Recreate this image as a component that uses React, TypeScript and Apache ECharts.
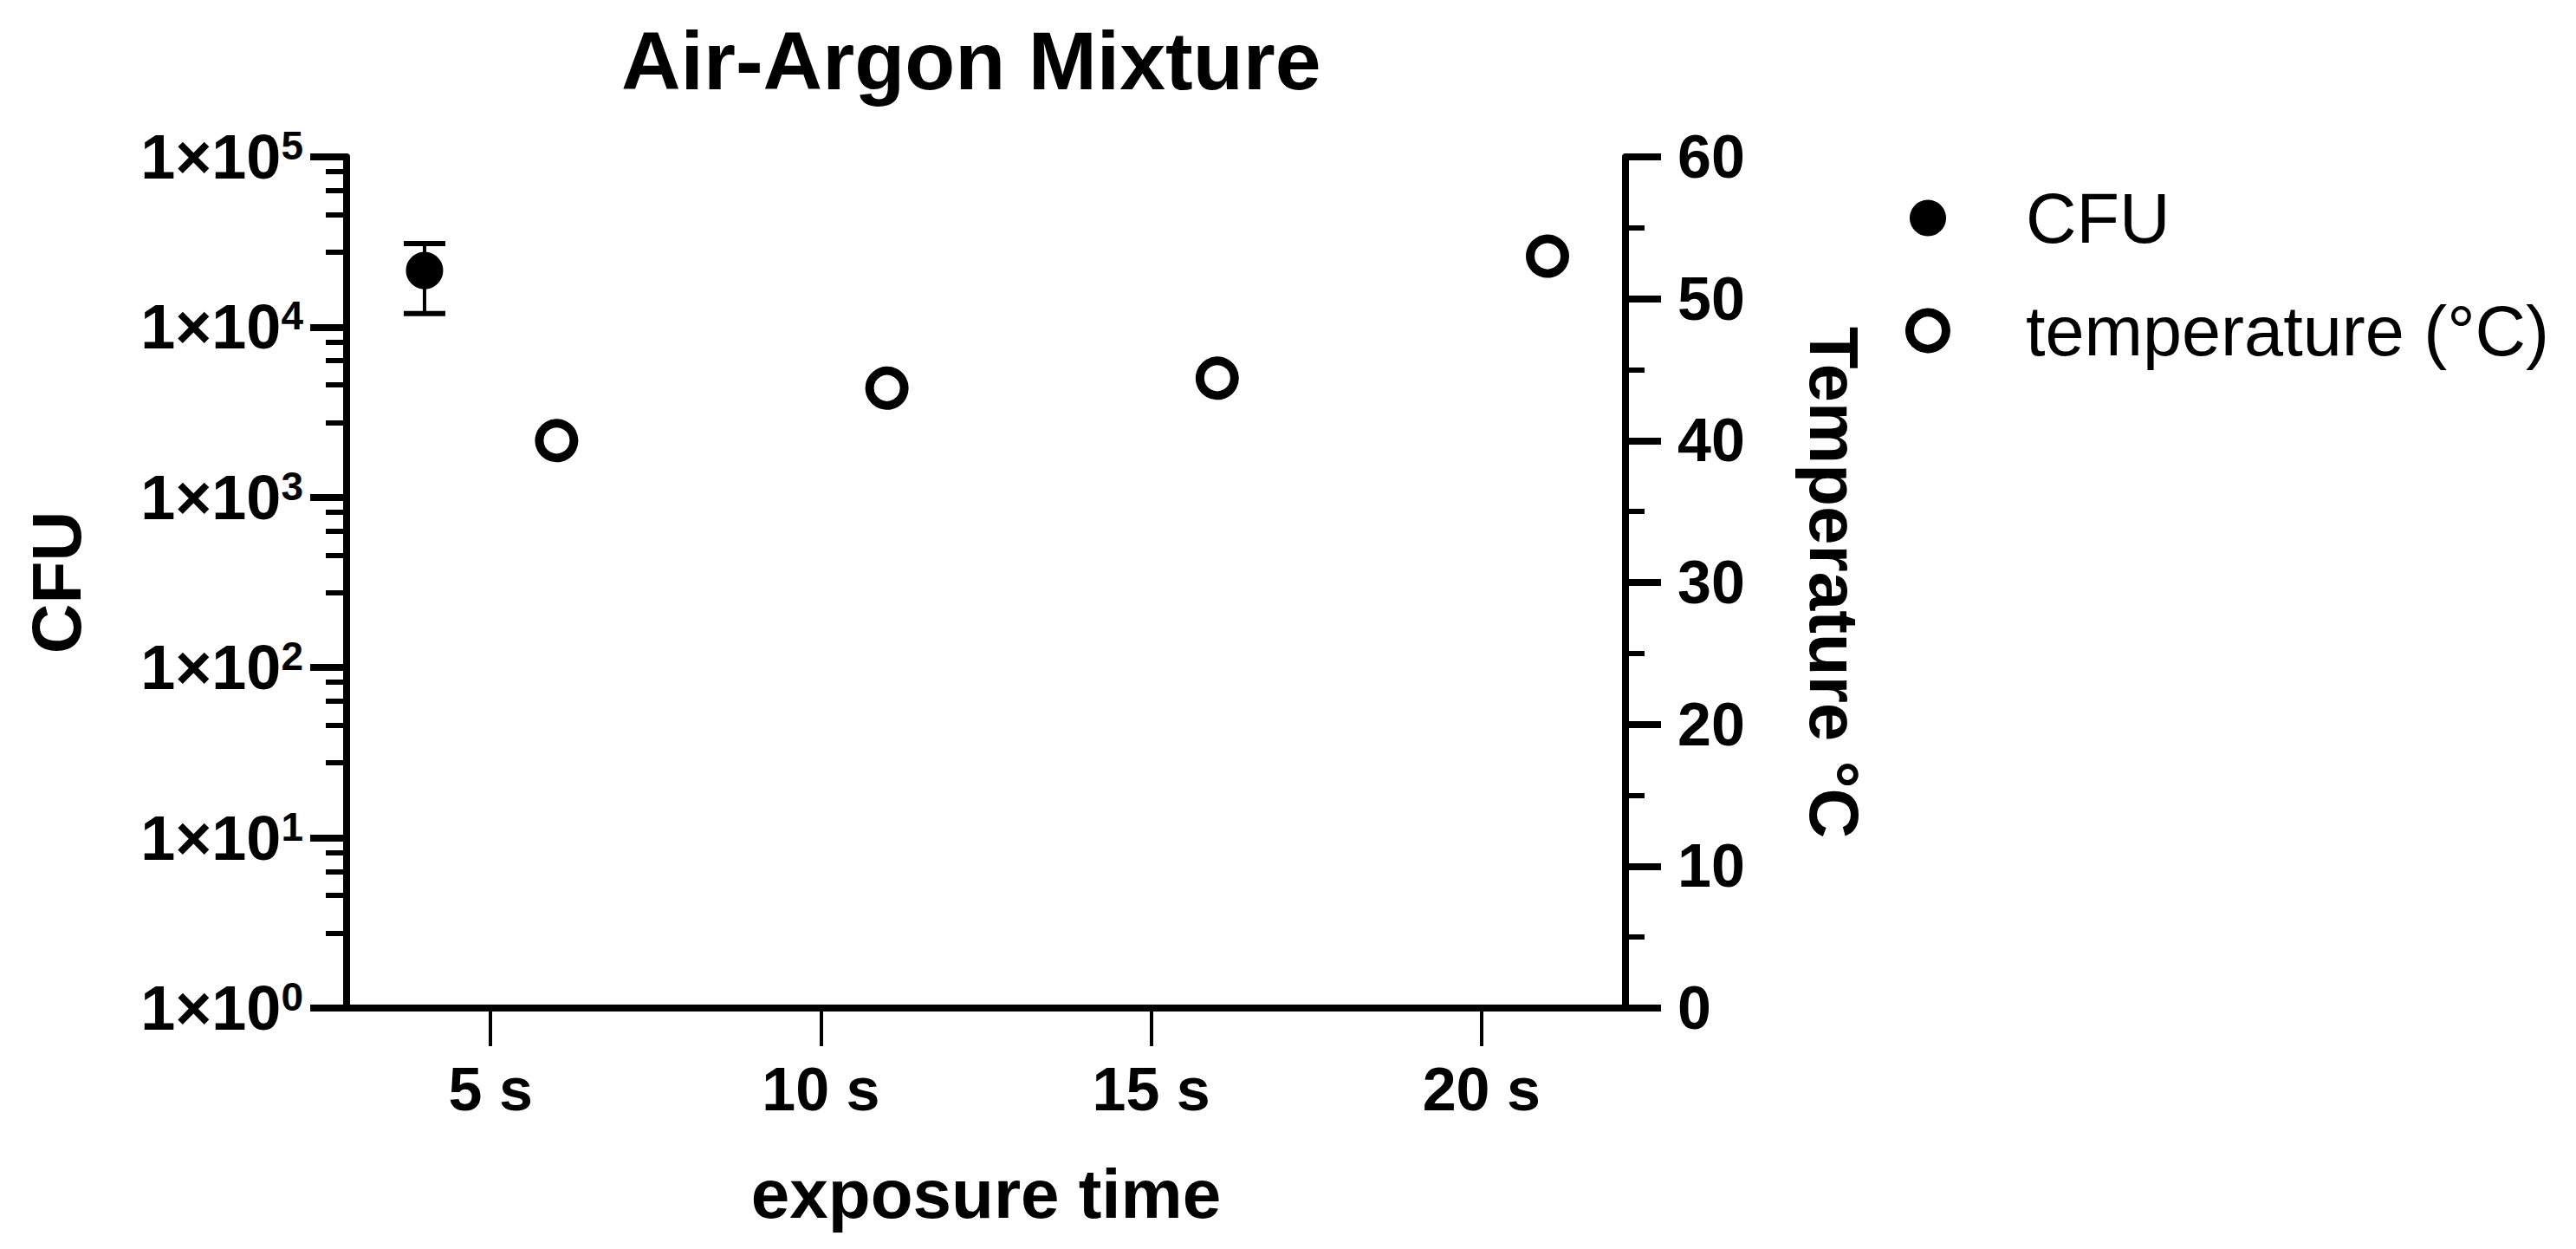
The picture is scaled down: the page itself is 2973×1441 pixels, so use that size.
import React, { useEffect, useRef } from "react";
import * as echarts from "echarts";

const FONT = '"Liberation Sans", Arial, Helvetica, sans-serif';

// ---- data ----
const xTickValues = [5, 10, 15, 20];
const cfuX = [4];
const cfuMean = [21500];
const cfuSD = [9500];
const tempX = [6, 11, 16, 21];
const tempY = [40, 43.7, 44.4, 53];
const rightTickLabels = [0, 10, 20, 30, 40, 50, 60];
// minor tick positions of the log axis, as fraction of a decade measured from each decade's top
const minorDecadeFractions = [0.086, 0.197, 0.339, 0.56];
const decadeCount = 5;

export default function App() {
  const ref = useRef<HTMLDivElement>(null);

  useEffect(() => {
    if (!ref.current) return;
    const chart = echarts.init(ref.current, undefined, { renderer: "svg" });

    const minorVals: number[] = [];
    for (let d = 1; d <= decadeCount; d++) {
      minorDecadeFractions.forEach((f) => minorVals.push(d - f));
    }

    const errData = cfuX.map((x, i) => [x, cfuMean[i] - cfuSD[i], cfuMean[i] + cfuSD[i]]);

    const nameStyle = { fontSize: 80, fontWeight: "bold" as const, fontFamily: FONT, color: "#000" };

    chart.setOption({
      animation: false,
      backgroundColor: "#fff",
      title: {
        text: "Air-Argon Mixture",
        left: 712,
        top: 17,
        textStyle: { fontSize: 95, fontWeight: "bold", fontFamily: FONT, color: "#000" },
      },
      legend: {
        orient: "vertical",
        left: 2194,
        top: 206,
        itemWidth: 42,
        itemHeight: 42,
        itemGap: 49,
        data: [
          { name: "CFU", icon: "circle", itemStyle: { color: "#000", borderWidth: 0, opacity: 1 } },
          {
            name: "temperature (°C)",
            icon: "circle",
            itemStyle: { color: "#fff", borderColor: "#000", borderWidth: 10, opacity: 1 },
          },
        ],
        textStyle: { fontSize: 81, color: "#000", fontFamily: FONT, padding: [0, 0, 0, 87] },
      },
      grid: { left: 400, right: 1097, top: 181, bottom: 278, containLabel: false },
      xAxis: {
        type: "value",
        min: 2.82,
        max: 22.18,
        axisLine: { show: true, onZero: false, lineStyle: { color: "#000", width: 8 } },
        axisTick: { show: true, customValues: xTickValues, length: 44, lineStyle: { color: "#000", width: 4 } },
        axisLabel: {
          customValues: xTickValues,
          formatter: (v: number) => `${v} s`,
          fontSize: 70,
          fontWeight: "bold",
          fontFamily: FONT,
          color: "#000",
          margin: 59,
        },
        splitLine: { show: false },
        name: "exposure time",
        nameLocation: "middle",
        nameGap: 174,
        nameTextStyle: nameStyle,
      },
      yAxis: [
        {
          type: "log",
          logBase: 10,
          min: 1,
          max: 100000,
          position: "left",
          axisLine: { show: true, onZero: false, lineStyle: { color: "#000", width: 8 } },
          axisTick: { show: true, length: 42, lineStyle: { color: "#000", width: 8 } },
          axisLabel: {
            margin: 50,
            formatter: (v: number) => `{m|1×10}{s|${Math.round(Math.log10(v))}}`,
            rich: {
              m: { fontSize: 72, fontWeight: "bold", fontFamily: FONT, color: "#000" },
              s: { fontSize: 46, fontWeight: "bold", fontFamily: FONT, color: "#000", verticalAlign: "top" },
            },
          },
          splitLine: { show: false },
          name: "CFU",
          nameLocation: "middle",
          nameGap: 295,
          nameTextStyle: nameStyle,
        },
        {
          type: "value",
          min: 0,
          max: 60,
          interval: 10,
          position: "right",
          axisLine: { show: true, onZero: false, lineStyle: { color: "#000", width: 8 } },
          axisTick: { show: true, length: 41, lineStyle: { color: "#000", width: 8 } },
          minorTick: { show: true, splitNumber: 2, length: 22, lineStyle: { color: "#000", width: 6 } },
          axisLabel: {
            margin: 60,
            fontSize: 70,
            fontWeight: "bold",
            fontFamily: FONT,
            color: "#000",
            formatter: (v: number) => (rightTickLabels.includes(v) ? String(v) : ""),
          },
          splitLine: { show: false },
          name: "Temperature °C",
          nameLocation: "middle",
          nameRotate: -90,
          nameGap: 200,
          nameTextStyle: nameStyle,
        },
        {
          type: "value",
          min: 0,
          max: decadeCount,
          position: "left",
          offset: 0,
          axisLine: { show: false },
          axisLabel: { show: false },
          splitLine: { show: false },
          axisTick: { show: true, customValues: minorVals, length: 24, lineStyle: { color: "#000", width: 6 } },
        },
      ],
      series: [
        {
          type: "custom",
          name: "CFU error",
          xAxisIndex: 0,
          yAxisIndex: 0,
          silent: true,
          z: 2,
          encode: { x: 0, y: [1, 2] },
          data: errData,
          renderItem: (params: any, api: any) => {
            const x = api.value(0);
            const lo = api.coord([x, api.value(1)]);
            const hi = api.coord([x, api.value(2)]);
            const cap = 24;
            const st = { stroke: "#000", lineWidth: 4 };
            const capSt = { stroke: "#000", lineWidth: 6 };
            return {
              type: "group",
              children: [
                { type: "line", shape: { x1: hi[0], y1: hi[1], x2: lo[0], y2: lo[1] }, style: st },
                { type: "line", shape: { x1: hi[0] - cap, y1: hi[1], x2: hi[0] + cap, y2: hi[1] }, style: capSt },
                { type: "line", shape: { x1: lo[0] - cap, y1: lo[1], x2: lo[0] + cap, y2: lo[1] }, style: capSt },
              ],
            };
          },
        },
        {
          type: "scatter",
          name: "CFU",
          xAxisIndex: 0,
          yAxisIndex: 0,
          z: 3,
          symbol: "circle",
          symbolSize: 43,
          itemStyle: { color: "#000", opacity: 1 },
          data: cfuX.map((x, i) => [x, cfuMean[i]]),
        },
        {
          type: "scatter",
          name: "temperature (°C)",
          xAxisIndex: 0,
          yAxisIndex: 1,
          z: 3,
          symbol: "circle",
          symbolSize: 40,
          itemStyle: { color: "#fff", borderColor: "#000", borderWidth: 10, opacity: 1 },
          data: tempX.map((x, i) => [x, tempY[i]]),
        },
      ],
    });

    return () => chart.dispose();
  }, []);

  return (
    <div
      ref={ref}
      style={{ position: "fixed", left: 0, top: 0, width: 2973, height: 1441, background: "#fff" }}
    />
  );
}
